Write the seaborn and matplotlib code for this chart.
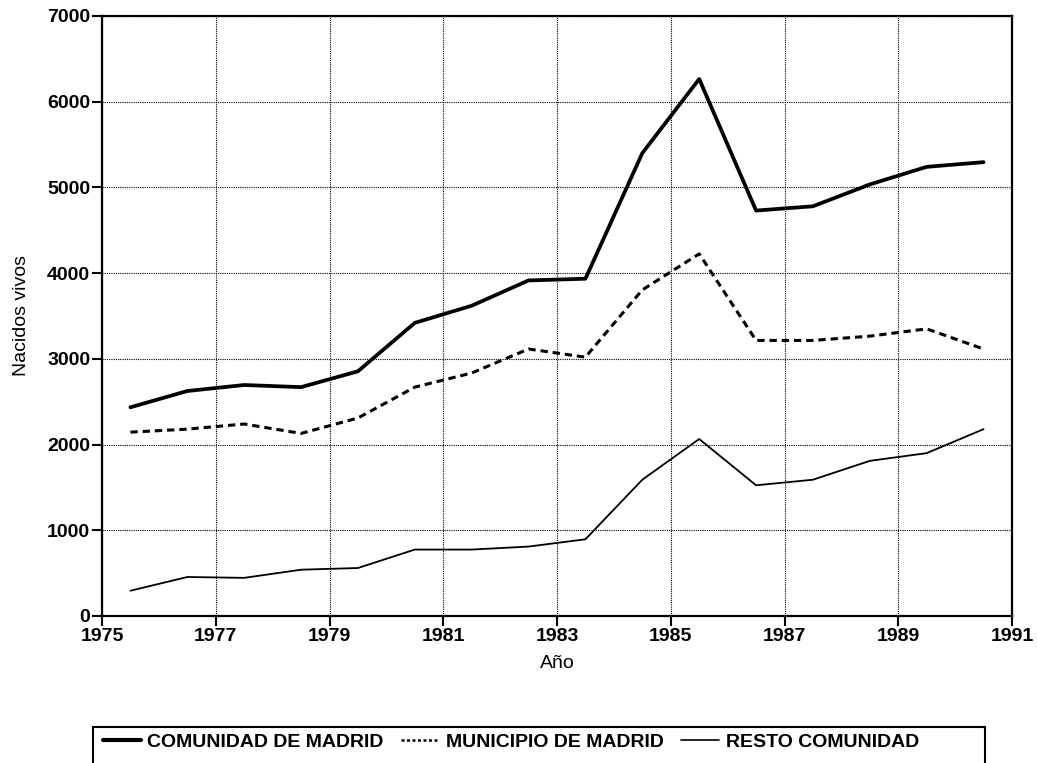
import matplotlib
matplotlib.use("Agg")
import matplotlib.pyplot as plt
from matplotlib.patches import Rectangle
from matplotlib.lines import Line2D
import seaborn as sns
import pandas as pd

# Data (one value per year, plotted at mid-year)
YEARS = [1975.5, 1976.5, 1977.5, 1978.5, 1979.5, 1980.5, 1981.5, 1982.5,
         1983.5, 1984.5, 1985.5, 1986.5, 1987.5, 1988.5, 1989.5, 1990.5]

COMUNIDAD = [2435, 2625, 2695, 2670, 2855, 3420, 3620, 3915,
             3935, 5400, 6265, 4730, 4780, 5035, 5240, 5295]
MUNICIPIO = [2145, 2180, 2240, 2130, 2310, 2670, 2835, 3115,
             3020, 3805, 4225, 3215, 3215, 3265, 3350, 3115]
RESTO = [295, 455, 445, 540, 560, 775, 775, 810,
         895, 1590, 2065, 1525, 1590, 1810, 1900, 2180]

SERIES = ['COMUNIDAD DE MADRID', 'MUNICIPIO DE MADRID', 'RESTO COMUNIDAD']
X_TICKS = [1975, 1977, 1979, 1981, 1983, 1985, 1987, 1989, 1991]
Y_TICKS = [0, 1000, 2000, 3000, 4000, 5000, 6000, 7000]

# line styles per series (plot line, legend handle)
STYLES = {
    'COMUNIDAD DE MADRID': dict(lw=2.7, ls='-', leg_lw=3.0, leg_ls='-'),
    'MUNICIPIO DE MADRID': dict(lw=2.2, ls=(0, (2.4, 1.6)), leg_lw=1.8, leg_ls=(0, (1.2, 1.0))),
    'RESTO COMUNIDAD': dict(lw=1.3, ls='-', leg_lw=1.2, leg_ls='-'),
}


def main():
    sns.set_style("white")
    plt.rcParams['font.family'] = ['Liberation Sans', 'DejaVu Sans']
    plt.rcParams['text.color'] = 'black'
    plt.rcParams['axes.labelcolor'] = 'black'

    df = pd.DataFrame({
        'Año': YEARS * 3,
        'Nacidos vivos': COMUNIDAD + MUNICIPIO + RESTO,
        'Serie': [s for s in SERIES for _ in YEARS],
    })

    fig = plt.figure(figsize=(10.37, 7.63), dpi=100)
    ax = fig.add_axes([102 / 1037, 147 / 763, 910 / 1037, 600 / 763])

    for name in SERIES:
        sub = df[df['Serie'] == name]
        sns.lineplot(data=sub, x='Año', y='Nacidos vivos', ax=ax, color='black',
                     linewidth=STYLES[name]['lw'], linestyle=STYLES[name]['ls'],
                     legend=False)

    ax.set_xlim(1975, 1991)
    ax.set_ylim(0, 7000)
    ax.set_xticks(X_TICKS)
    ax.set_yticks(Y_TICKS)
    ax.tick_params(axis='both', direction='out', length=7, width=1.5, pad=1.5,
                   labelsize=14, colors='black', left=True, bottom=True)
    for lab in ax.get_xticklabels() + ax.get_yticklabels():
        lab.set_fontweight('bold')
    ax.grid(True, color='black', linestyle=(0, (1, 1)), linewidth=0.8)
    for sp in ax.spines.values():
        sp.set_color('black')
        sp.set_linewidth(1.6)

    ax.set_xlabel('Año', fontsize=14, labelpad=7)
    ax.set_ylabel('Nacidos vivos', fontsize=14, labelpad=12)

    # legend box at the bottom (runs off the page like the original)
    handles = [Line2D([], [], color='black', lw=STYLES[n]['leg_lw'], ls=STYLES[n]['leg_ls'])
               for n in SERIES]
    fig.legend(handles, SERIES, loc='center left', ncol=3, frameon=False,
               bbox_to_anchor=(93 / 1037, 1 - 742 / 763), borderpad=0,
               prop={'size': 14, 'weight': 'bold'},
               handlelength=1.95, handletextpad=0.35, columnspacing=0.9)
    fig.patches.append(Rectangle((93 / 1037, -0.02), 892 / 1037, 1 - 727 / 763 + 0.02,
                                 transform=fig.transFigure, fill=False,
                                 edgecolor='black', linewidth=1.5))

    fig.savefig('out.png', dpi=100)
    plt.close(fig)


if __name__ == "__main__":
    main()
